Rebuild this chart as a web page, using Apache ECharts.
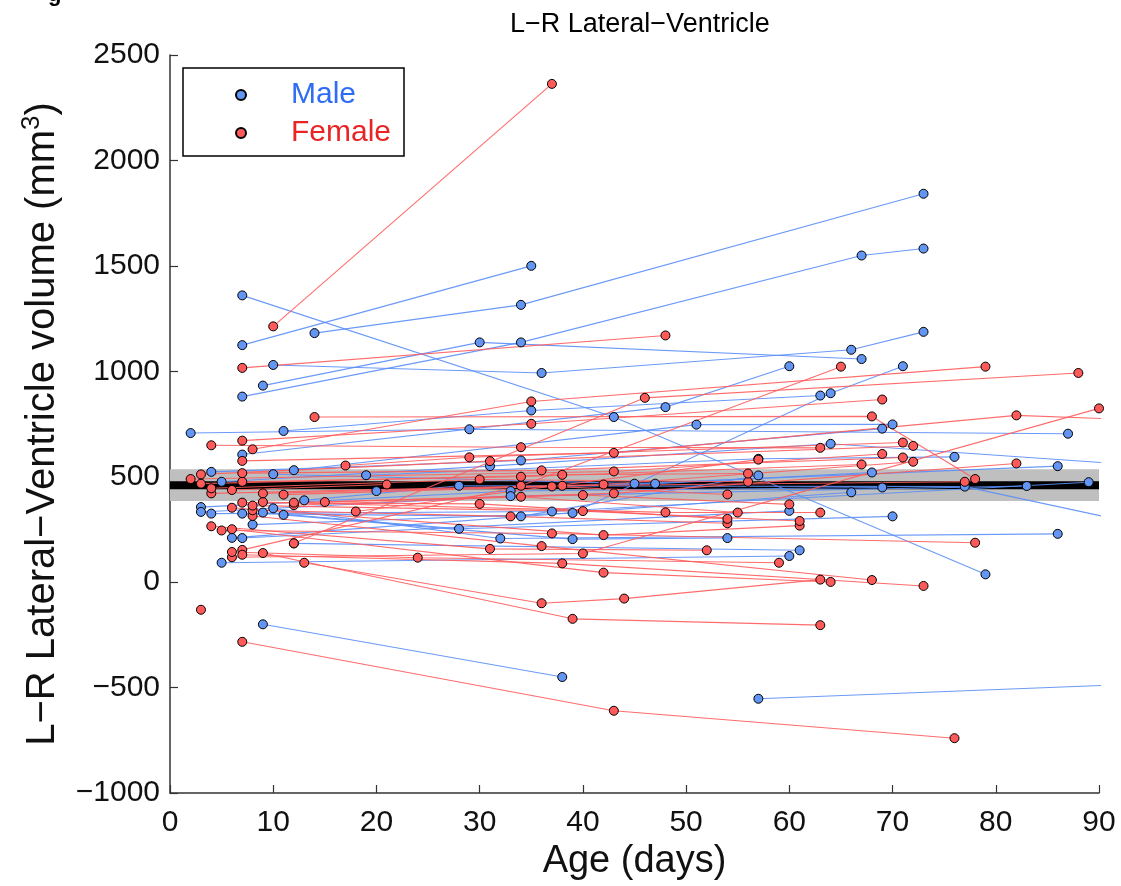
<!DOCTYPE html>
<html>
<head>
<meta charset="utf-8">
<script src="https://cdn.jsdelivr.net/npm/echarts@6/dist/echarts.min.js"></script>
<style>
  html, body { margin: 0; padding: 0; background: #fff; }
  #chart { width: 1121px; height: 886px; }
</style>
</head>
<body>
<div id="chart"></div>
<script>
// age (days), L-R volume (mm3) per animal
var maleSubjects = [
  [[7,1360],[43,783],[79,37]],
  [[7,1124],[35,1500]],
  [[14,1181],[34,1315],[73,1842]],
  [[10,1030],[36,992],[66,1102],[73,1187]],
  [[7,880],[34,1137],[67,1549],[73,1582]],
  [[9,932],[30,1137],[67,1058]],
  [[11,717],[35,814],[63,885]],
  [[8,273],[39,328],[64,896],[71,1024]],
  [[2,707],[29,725],[87,704]],
  [[12,531],[51,747],[70,748]],
  [[4,523],[34,577],[69,728]],
  [[19,507],[57,585],[76,594]],
  [[10,512],[45,467],[86,550]],
  [[5,476],[31,550],[64,656],[96,548]],
  [[7,605],[48,830],[60,1024]],
  [[20,432],[47,467],[68,520]],
  [[13,388],[28,457],[77,453],[96,253]],
  [[3,356],[33,432],[69,449]],
  [[3,333],[33,408],[83,456]],
  [[4,325],[37,335],[89,474]],
  [[7,325],[34,312],[57,506]],
  [[9,330],[28,253],[70,312]],
  [[10,350],[32,207],[86,229]],
  [[11,319],[39,204],[54,209]],
  [[6,210],[66,426]],
  [[7,209],[60,338]],
  [[12,184],[61,151]],
  [[5,92],[60,124]],
  [[9,-200],[38,-450]],
  [[57,-553],[96,-479]]
];

var femaleSubjects = [
  [[10,1213],[37,2363]],
  [[7,1016],[48,1170]],
  [[7,-283],[43,-610],[76,-740]],
  [[8,630],[35,857],[79,1022]],
  [[12,184],[46,874],[88,992]],
  [[7,153],[34,457],[65,1022]],
  [[6,118],[40,136],[90,824]],
  [[9,138],[39,-174],[63,-204]],
  [[13,92],[36,-100],[44,-78],[63,12]],
  [[6,251],[42,45],[64,1]],
  [[7,130],[38,89],[73,-18]],
  [[6,143],[24,116],[59,92]],
  [[5,245],[37,231],[78,187]],
  [[4,265],[31,158],[52,151]],
  [[8,314],[36,171],[68,10]],
  [[6,353],[42,223],[61,268]],
  [[8,341],[33,312],[54,279]],
  [[8,363],[40,337],[61,290]],
  [[7,377],[30,371],[54,300]],
  [[9,380],[48,331],[63,330]],
  [[12,365],[34,405],[55,330]],
  [[12,377],[40,413],[60,369]],
  [[15,380],[43,421],[82,563]],
  [[11,415],[37,454],[54,416]],
  [[9,421],[38,457],[77,476]],
  [[4,421],[42,463],[72,571]],
  [[4,445],[30,487],[56,476]],
  [[7,476],[34,500],[67,558]],
  [[3,467],[38,509],[56,515]],
  [[7,517],[36,530],[71,591]],
  [[2,489],[43,525],[69,608]],
  [[3,511],[31,574],[72,646]],
  [[17,553],[29,592],[71,662]],
  [[7,575],[43,613],[82,791],[96,766]],
  [[4,649],[34,640],[63,637]],
  [[7,671],[35,751],[69,866]],
  [[14,783],[68,786],[78,489]],
  [[18,335],[57,581]],
  [[6,437],[21,463]],
  [[3,-131]]
];

// group mean and its band
var meanVolume = 460;
var bandLow = 385;
var bandHigh = 535;

var ageMin = 0, ageMax = 90, ageStep = 10;
var volMin = -1000, volMax = 2500, volStep = 500;

var blueLine = '#5b8ef7', blueDot = '#6395f2';
var redLine = '#ff5c5c', redDot = '#ff5a5a';
var font = '"Liberation Sans", Arial, Helvetica, sans-serif';

var chart = echarts.init(document.getElementById('chart'));

var series = [];

// gray band + thick black mean
series.push({
  type: 'line',
  data: [[ageMin, meanVolume], [ageMax, meanVolume]],
  symbol: 'none',
  silent: true,
  lineStyle: { color: '#000', width: 8 },
  markArea: {
    silent: true,
    itemStyle: { color: '#bfbfbf', opacity: 1 },
    data: [[{ coord: [ageMin, bandLow] }, { coord: [ageMax, bandHigh] }]]
  },
  z: 1
});

function addLines(list, color) {
  for (var i = 0; i < list.length; i++) {
    if (list[i].length < 2) continue;
    series.push({
      type: 'line',
      data: list[i],
      symbol: 'none',
      clip: true,
      silent: true,
      lineStyle: { color: color, width: 1.1, opacity: 0.9 },
      z: 2
    });
  }
}
addLines(maleSubjects, blueLine);
addLines(femaleSubjects, redLine);

function dots(list) {
  var out = [];
  for (var i = 0; i < list.length; i++) {
    for (var j = 0; j < list[i].length; j++) {
      if (list[i][j][0] <= ageMax) out.push(list[i][j]);
    }
  }
  return out;
}

series.push({
  name: 'Male',
  type: 'scatter',
  data: dots(maleSubjects),
  symbolSize: 9,
  itemStyle: { color: blueDot, borderColor: '#000', borderWidth: 1, opacity: 1 },
  z: 3
});
series.push({
  name: 'Female',
  type: 'scatter',
  data: dots(femaleSubjects),
  symbolSize: 9,
  itemStyle: { color: redDot, borderColor: '#000', borderWidth: 1, opacity: 1 },
  z: 4
});

function minus(v) { return String(v).replace('-', '\u2212'); }

chart.setOption({
  animation: false,
  backgroundColor: '#fff',
  title: {
    text: 'L\u2212R Lateral\u2212Ventricle',
    left: 505,
    top: 6,
    textStyle: { fontFamily: font, fontWeight: 'normal', fontSize: 27, color: '#000' }
  },
  grid: { left: 170, right: 22, top: 55, bottom: 90 },
  legend: {
    orient: 'vertical',
    left: 230,
    top: 75,
    itemWidth: 10,
    itemHeight: 10,
    itemGap: 8,
    textStyle: { fontFamily: font, fontSize: 30, padding: [0, 0, 0, 40] },
    data: [
      { name: 'Male', textStyle: { color: '#2d6cf3' } },
      { name: 'Female', textStyle: { color: '#e82424' } }
    ]
  },
  graphic: [
    {
      type: 'rect',
      shape: { x: 183, y: 68, width: 221, height: 88 },
      style: { fill: 'none', stroke: '#000', lineWidth: 1.5 },
      z: 50
    },
    {
      // cut-off letter at the top edge of the page
      type: 'text',
      x: 48,
      y: -16,
      style: { text: 'g', font: 'bold 22px ' + font, fill: '#000' }
    }
  ],
  xAxis: {
    type: 'value',
    min: ageMin, max: ageMax, interval: ageStep,
    name: 'Age (days)',
    nameLocation: 'middle',
    nameGap: 50,
    nameTextStyle: { fontFamily: font, fontSize: 38, color: '#111' },
    axisLine: { onZero: false, lineStyle: { color: '#333', width: 1.5 } },
    axisTick: { inside: true, length: 8, lineStyle: { color: '#333', width: 1.2 } },
    axisLabel: { fontFamily: font, fontSize: 30, color: '#111', margin: 15 },
    splitLine: { show: false }
  },
  yAxis: {
    type: 'value',
    min: volMin, max: volMax, interval: volStep,
    name: 'L\u2212R Lateral\u2212Ventricle volume (mm{sup|3})',
    nameLocation: 'middle',
    nameGap: 104,
    nameTextStyle: {
      fontFamily: font, fontSize: 40, color: '#111',
      rich: { sup: { fontFamily: font, fontSize: 26, color: '#111', padding: [0, 0, 21, 0] } }
    },
    axisLine: { onZero: false, lineStyle: { color: '#333', width: 1.5 } },
    axisTick: { inside: true, length: 8, lineStyle: { color: '#333', width: 1.2 } },
    axisLabel: { fontFamily: font, fontSize: 30, color: '#111', margin: 10, formatter: minus },
    splitLine: { show: false }
  },
  series: series
});
</script>
</body>
</html>
